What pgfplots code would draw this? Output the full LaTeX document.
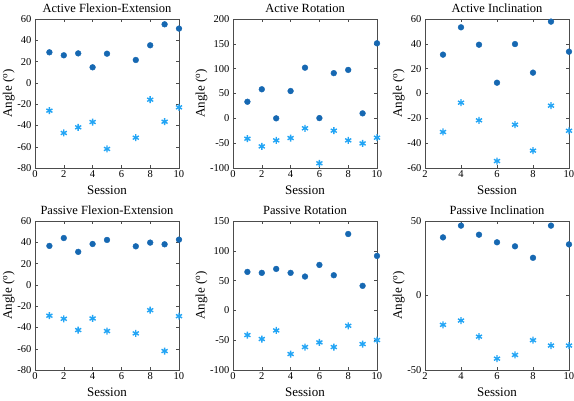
\documentclass[border=0pt]{standalone}
\usepackage{pgfplots}
\pgfplotsset{compat=1.18}
\usepackage{fontspec}
\setmainfont{Liberation Serif}
\definecolor{dotc}{RGB}{22,104,178}
\definecolor{starc}{RGB}{35,165,245}
\pgfplotsset{
  panel/.style={
    scale only axis, width=144pt, height=149pt, anchor=south west,
    axis line style={draw=black!70, line width=0.6pt},
    tick align=inside, tick pos=both, major tick length=3pt,
    every tick/.style={black!70},
    tick label style={font=\fontsize{10.5}{11}\selectfont},
    xticklabel style={yshift=1pt},
    /pgf/number format/assume math mode=true,
    title style={font=\fontsize{12.5}{13}\selectfont, yshift=-3pt},
    xlabel style={font=\fontsize{13}{14}\selectfont, yshift=-1pt},
    ylabel style={font=\fontsize{13}{14}\selectfont, yshift=-4pt},
    xlabel={Session}, ylabel={Angle (\textsuperscript{o})},
    yticklabel style={/pgf/number format/.cd, fixed},
    scaled y ticks=false,
  },
  dots/.style={only marks, mark=*, mark size=2.9pt, color=dotc, mark options={draw=dotc, fill=dotc}},
  stars/.style={only marks, mark=asterisk, mark size=3.5pt, color=starc, mark options={line width=1.4pt}},
}
\begin{document}
\begin{tikzpicture}
\useasboundingbox (0pt,0pt) rectangle (574pt,400pt);
% Active Flexion-Extension
\begin{axis}[panel, at={(35pt,232pt)}, title={Active Flexion-Extension},
  xmin=0, xmax=10, ymin=-80, ymax=60, xtick={0,2,...,10}, ytick={-80,-60,...,60}]
\addplot[dots] coordinates {(1,28.7)(2,25.9)(3,27.7)(4,14.6)(5,27.4)(7,21.5)(8,35.3)(9,55)(10,51)};
\addplot[stars] coordinates {(1,-26.1)(2,-47.1)(3,-41.8)(4,-36.8)(5,-62.1)(7,-51.5)(8,-15.8)(9,-36.5)(10,-23)};
\end{axis}
% Active Rotation
\begin{axis}[panel, at={(233pt,232pt)}, title={Active Rotation},
  xmin=0, xmax=10, ymin=-100, ymax=200, xtick={0,2,...,10}, ytick={-100,-50,...,200}]
\addplot[dots] coordinates {(1,33.4)(2,58.5)(3,0)(4,55)(5,102)(6,0.5)(7,91)(8,97.5)(9,10)(10,151)};
\addplot[stars] coordinates {(1,-41)(2,-56.5)(3,-44.4)(4,-39.7)(5,-20)(6,-90.5)(7,-24.8)(8,-44.4)(9,-50.5)(10,-39)};
\end{axis}
% Active Inclination
\begin{axis}[panel, at={(425pt,232pt)}, title={Active Inclination},
  xmin=2, xmax=10, ymin=-60, ymax=60, xtick={2,4,...,10}, ytick={-60,-40,...,60}]
\addplot[dots] coordinates {(3,31.3)(4,53.3)(5,39.3)(6,8.7)(7,39.8)(8,16.8)(9,57.9)(10,33.7)};
\addplot[stars] coordinates {(3,-31)(4,-7.4)(5,-21.6)(6,-54.4)(7,-25.1)(8,-46)(9,-9.8)(10,-30)};
\end{axis}
% Passive Flexion-Extension
\begin{axis}[panel, at={(35pt,30pt)}, title={Passive Flexion-Extension},
  xmin=0, xmax=10, ymin=-80, ymax=60, xtick={0,2,...,10}, ytick={-80,-60,...,60}]
\addplot[dots] coordinates {(1,36.6)(2,44)(3,31)(4,38.4)(5,42.2)(7,36.2)(8,39.7)(9,38.1)(10,42.5)};
\addplot[stars] coordinates {(1,-29)(2,-31.9)(3,-42.5)(4,-31.6)(5,-43.4)(7,-45.6)(8,-23.8)(9,-62.2)(10,-29.4)};
\end{axis}
% Passive Rotation
\begin{axis}[panel, at={(233pt,30pt)}, title={Passive Rotation},
  xmin=0, xmax=10, ymin=-100, ymax=150, xtick={0,2,...,10}, ytick={-100,-50,...,150}]
\addplot[dots] coordinates {(1,64.6)(2,63)(3,69.6)(4,63)(5,56.8)(6,76.3)(7,59)(8,128.2)(9,41.2)(10,91.4)};
\addplot[stars] coordinates {(1,-41.4)(2,-48)(3,-33.6)(4,-73.2)(5,-61.5)(6,-53.7)(7,-61.5)(8,-25.8)(9,-56.5)(10,-49.8)};
\end{axis}
% Passive Inclination
\begin{axis}[panel, at={(425pt,30pt)}, title={Passive Inclination},
  xmin=2, xmax=10, ymin=-50, ymax=50, xtick={2,4,...,10}, ytick={-50,0,50}]
\addplot[dots] coordinates {(3,39)(4,46.9)(5,40.8)(6,35.7)(7,33)(8,25.3)(9,46.9)(10,34.3)};
\addplot[stars] coordinates {(3,-19.7)(4,-16.8)(5,-27.6)(6,-42.4)(7,-39.9)(8,-30)(9,-33.6)(10,-33.6)};
\end{axis}
\end{tikzpicture}
\end{document}
